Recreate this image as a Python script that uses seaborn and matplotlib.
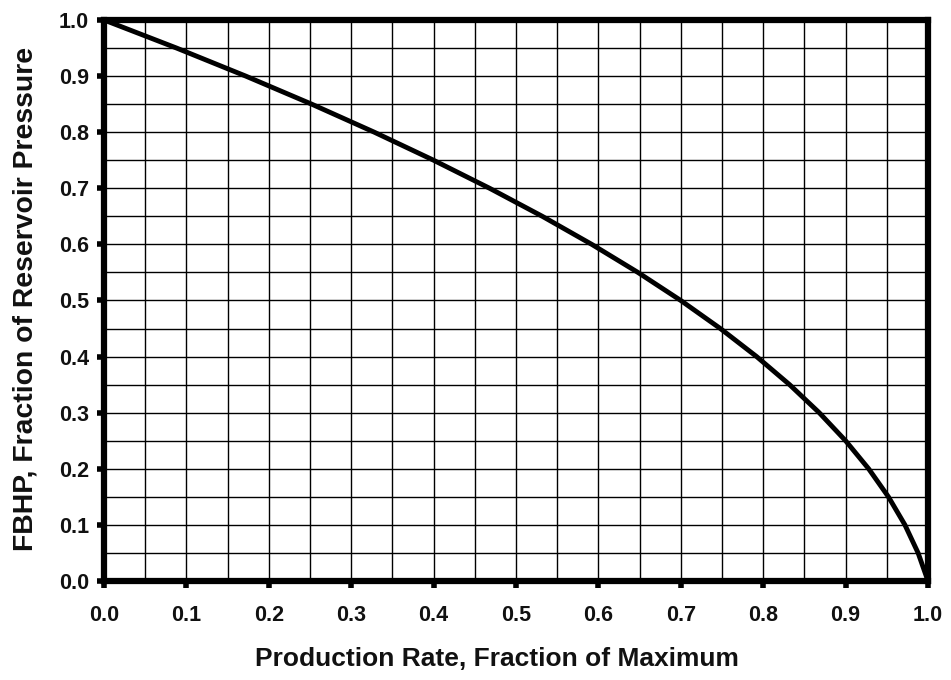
import matplotlib
matplotlib.use("Agg")
import matplotlib.pyplot as plt
import seaborn as sns
import pandas as pd
import numpy as np

# Values
rate = [0.0, 0.088, 0.172, 0.252, 0.328, 0.400, 0.468, 0.532, 0.592, 0.648, 0.700,
        0.748, 0.792, 0.832, 0.868, 0.900, 0.928, 0.952, 0.972, 0.988, 1.0]
fbhp = [1.0, 0.95, 0.90, 0.85, 0.80, 0.75, 0.70, 0.65, 0.60, 0.55, 0.50,
        0.45, 0.40, 0.35, 0.30, 0.25, 0.20, 0.15, 0.10, 0.05, 0.0]
xticks = [0.0, 0.1, 0.2, 0.3, 0.4, 0.5, 0.6, 0.7, 0.8, 0.9, 1.0]
yticks = [0.0, 0.1, 0.2, 0.3, 0.4, 0.5, 0.6, 0.7, 0.8, 0.9, 1.0]

sns.set_theme(style="white")
plt.rcParams['font.family'] = ['Liberation Sans', 'DejaVu Sans']

df = pd.DataFrame({"rate": rate, "fbhp": fbhp})

fig = plt.figure(figsize=(9.51, 6.8), dpi=100)
ax = fig.add_axes([0.1094, 0.1456, 0.8664, 0.825])

ax.set_xlim(0, 1)
ax.set_ylim(0, 1)
minor = np.arange(0, 1.0001, 0.05)
ax.set_xticks(minor, minor=True)
ax.set_yticks(minor, minor=True)
ax.set_xticks(xticks)
ax.set_yticks(yticks)
ax.set_xticklabels([f"{t:.1f}" for t in xticks])
ax.set_yticklabels([f"{t:.1f}" for t in yticks])
ax.grid(which="both", color="black", linewidth=1.0)
ax.set_axisbelow(True)

sns.lineplot(data=df, x="rate", y="fbhp", ax=ax, color="black", linewidth=3.5,
             sort=False, clip_on=False, zorder=5)

for s in ax.spines.values():
    s.set_visible(True)
    s.set_color("black")
    s.set_linewidth(4.5)
    s.set_zorder(6)

ax.tick_params(which="major", direction="out", length=5, width=4, color="black",
               labelsize=15.5, bottom=True, left=True)
ax.tick_params(axis="x", which="major", pad=12)
ax.tick_params(axis="y", which="major", pad=6)
ax.tick_params(which="minor", length=0)
for lab in ax.get_xticklabels() + ax.get_yticklabels():
    lab.set_fontweight("bold")
    lab.set_color("#111111")

ax.set_xlabel("Production Rate, Fraction of Maximum", fontsize=19,
              fontweight="bold", color="#111111")
ax.set_ylabel("FBHP, Fraction of Reservoir Pressure", fontsize=20.4,
              fontweight="bold", color="#111111")
ax.xaxis.set_label_coords(0.477, -0.117)
ax.yaxis.set_label_coords(-0.080, 0.502)

fig.savefig("out.png", dpi=100, facecolor="white")
